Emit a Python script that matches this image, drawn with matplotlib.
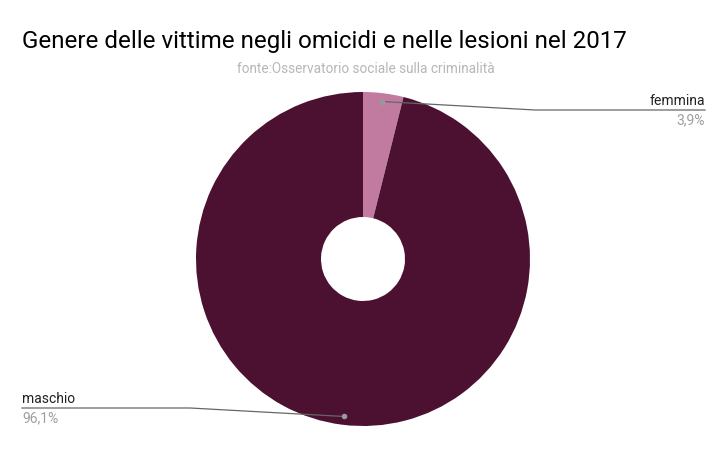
import numpy as np
import matplotlib.pyplot as plt

plt.rcParams['font.family'] = ['Roboto', 'DejaVu Sans']

# data
labels = ['femmina', 'maschio']
values = [3.9, 96.1]
pct_labels = ['3,9%', '96,1%']
colors = ['#c27ba0', '#4c1130']

W, H = 727, 449
fig = plt.figure(figsize=(W / 100, H / 100), dpi=100)
ax = fig.add_axes([0, 0, 1, 1])

cx, cy, R = 363, H - 259, 167
ax.pie(values, colors=colors, startangle=90, counterclock=False,
       center=(cx, cy), radius=R, frame=True,
       wedgeprops=dict(width=R - 42, edgecolor='none'))
ax.set_xlim(0, W)
ax.set_ylim(0, H)
ax.set_aspect('equal')
ax.axis('off')

# leader lines
frac = np.array(values) / sum(values)
mid = np.cumsum(frac) - frac / 2
rd = 0.95 * R
# (elbow x, line end x, line y, text ha)
lbl = [(535, 705, H - 110, 'right'), (190, 22, H - 408, 'left')]
for i, (ex, tx, ly, ha) in enumerate(lbl):
    a = mid[i] * 2 * np.pi
    px, py = cx + rd * np.sin(a), cy + rd * np.cos(a)
    ax.plot([px, ex, tx], [py, ly, ly], color='#666666', lw=0.9)
    ax.plot(px, py, 'o', color='#999999', ms=3)
    ax.text(tx, ly + 2, labels[i], ha=ha, va='bottom', fontsize=10, color='#222222')
    ax.text(tx, ly - 3, pct_labels[i], ha=ha, va='top', fontsize=10, color='#9e9e9e')

ax.text(22, H - 48, 'Genere delle vittime negli omicidi e nelle lesioni nel 2017',
        fontsize=17.4, color='#000000', ha='left', va='baseline')
ax.text(366, H - 73, 'fonte:Osservatorio sociale sulla criminalità',
        fontsize=9.8, color='#b7b7b7', ha='center', va='baseline')

fig.savefig('out.png', dpi=100)
